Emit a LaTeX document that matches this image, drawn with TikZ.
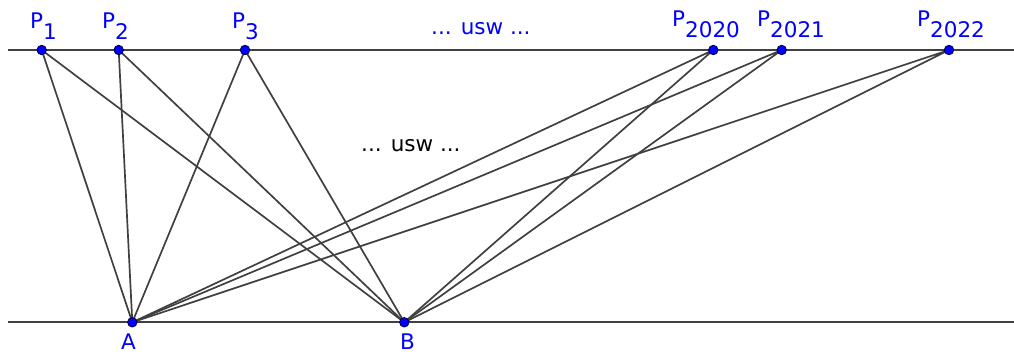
\documentclass[tikz,border=0pt]{standalone}
\usepackage{fontspec}
\setmainfont{DejaVu Sans}
\usepackage{tikz}
\usetikzlibrary{positioning}
\definecolor{blue}{RGB}{0,0,255}
\definecolor{ptedge}{RGB}{0,0,60}
\definecolor{seg}{RGB}{64,64,64}
\newcommand{\lowsub}[1]{\raisebox{-11pt}{#1}}

\begin{document}
\begin{tikzpicture}[x=1pt,y=-1pt,
  line/.style={seg,line width=2.1pt},
  segline/.style={seg,line width=1.7pt},
  pt/.style={circle,fill=blue,draw=ptedge,line width=0.8pt,inner sep=0pt,minimum size=9.5pt},
  lbl/.style={text=blue,inner sep=0pt,font=\fontsize{21.5}{25}\selectfont}]

\useasboundingbox (0,0) rectangle (1014,352);

\coordinate (l1) at (8,50);
\coordinate (r1) at (1014,50);
\coordinate (l2) at (8,322);
\coordinate (r2) at (1014,322);
\draw[line] (l1) -- (r1);
\draw[line] (l2) -- (r2);

\coordinate (p1) at (41.7,50);
\coordinate (p2) at (118.7,50);
\coordinate (p3) at (245,50);
\coordinate (p2020) at (713.3,50);
\coordinate (p2021) at (781.7,50);
\coordinate (p2022) at (949,50);
\coordinate (a) at (132.3,322.3);
\coordinate (b) at (404.3,322.3);

\foreach \p in {p1,p2,p3,p2020,p2021,p2022}
  \draw[segline] (\p) -- (a) (\p) -- (b);

\foreach \p in {p1,p2,p3,p2020,p2021,p2022,a,b}
  \node[pt] at (\p) {};

\node[lbl,anchor=base west] (lp1) at (30,28.3) {P\lowsub{1}};
\node[lbl,anchor=base west] (lp2) at (102,28.3) {P\lowsub{2}};
\node[lbl,anchor=base west] (lp3) at (232,28.3) {P\lowsub{3}};
\node[lbl,anchor=base west] (lp2020) at (672,26.7) {P\lowsub{2020}};
\node[lbl,anchor=base west] (lp2021) at (757,26.7) {P\lowsub{2021}};
\node[lbl,anchor=base west] (lp2022) at (917,26.7) {P\lowsub{2022}};
\node[lbl,anchor=base] (la) at (128.5,349.5) {A};
\node[lbl,anchor=base] (lb) at (407.5,349.5) {B};

\node[lbl,anchor=base west] (usw1) at (431,35) {... usw ...};
\node[lbl,text=black,anchor=base west] (usw2) at (361,152) {... usw ...};
\end{tikzpicture}
\end{document}
